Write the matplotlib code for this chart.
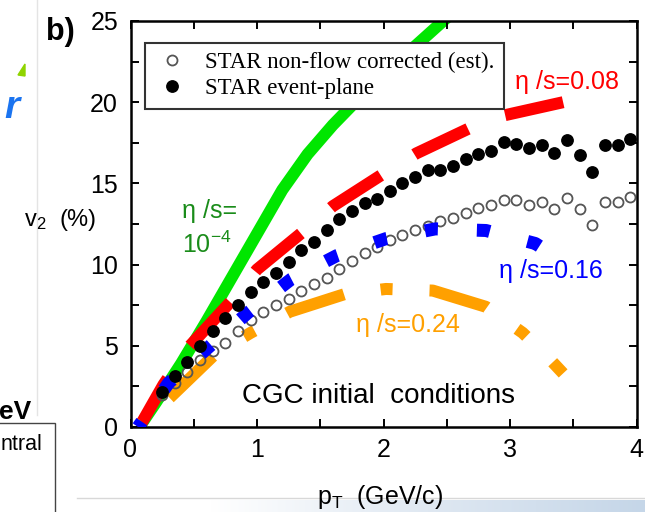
import matplotlib
matplotlib.use("Agg")
import matplotlib.pyplot as plt
from matplotlib.ticker import MultipleLocator
from matplotlib.lines import Line2D
from matplotlib.patches import Rectangle, Polygon
import numpy as np

plt.rcParams['font.family'] = ['Liberation Sans', 'DejaVu Sans']
plt.rcParams['mathtext.fontset'] = 'custom'
plt.rcParams['mathtext.rm'] = 'Liberation Sans'
plt.rcParams['mathtext.it'] = 'Liberation Sans:italic'
plt.rcParams['mathtext.bf'] = 'Liberation Sans:bold'

# STAR data (v2 in %)
pt = [0.25, 0.35, 0.45, 0.55, 0.65, 0.75, 0.85, 0.95, 1.05, 1.15, 1.25, 1.35, 1.45,
      1.55, 1.65, 1.75, 1.85, 1.95, 2.05, 2.15, 2.25, 2.35, 2.45, 2.55, 2.65, 2.75,
      2.85, 2.95, 3.05, 3.15, 3.25, 3.35, 3.45, 3.55, 3.65, 3.75, 3.85, 3.95]
v2_ep = [2.15, 3.15, 4.0, 5.0, 5.9, 6.7, 7.5, 8.3, 8.95, 9.5, 10.15, 10.9, 11.4,
         12.1, 12.8, 13.3, 13.8, 14.05, 14.55, 15.0, 15.4, 15.8, 15.8, 16.1, 16.5, 16.8,
         17.0, 17.55, 17.45, 17.15, 17.35, 16.85, 17.65, 16.75, 15.7, 17.35, 17.35, 17.75]
v2_nf = [2.0, 2.7, 3.4, 4.1, 4.7, 5.2, 5.9, 6.6, 7.1, 7.5, 7.9, 8.4, 8.8,
         9.2, 9.7, 10.2, 10.7, 11.1, 11.5, 11.8, 12.1, 12.4, 12.7, 12.9, 13.2, 13.5,
         13.65, 14.0, 13.95, 13.65, 13.85, 13.45, 14.1, 13.4, 12.45, 13.85, 13.85, 14.15]

# hydro curves, eta/s values
green_pt = [0.07, 0.2, 0.4, 0.6, 0.8, 1.0, 1.2, 1.4, 1.6, 1.8, 2.0, 2.2, 2.4, 2.5]
green_v2 = [0.0, 1.5, 3.9, 6.5, 9.2, 11.9, 14.6, 16.8, 18.6, 20.2, 21.7, 23.1, 24.5, 25.2]
red_pt = [0.07, 0.26, 0.47, 0.79, 1.0, 1.36, 1.6, 2.0, 2.26, 2.68, 2.96, 3.42]
red_v2 = [0.0, 2.6, 5.0, 7.7, 9.7, 12.0, 13.6, 15.6, 16.85, 18.4, 19.2, 20.0]
blue_pt = [0.06, 0.3, 0.63, 0.93, 1.27, 1.63, 2.02, 2.41, 2.81, 3.2, 3.25]
blue_v2 = [0.0, 2.7, 5.0, 7.05, 9.1, 10.55, 11.6, 12.2, 12.1, 11.3, 11.05]
orange_pt = [0.06, 0.31, 0.67, 0.95, 1.26, 1.7, 2.02, 2.39, 2.81, 3.1, 3.3, 3.42]
orange_v2 = [0.0, 1.8, 4.5, 5.8, 7.1, 8.2, 8.5, 8.4, 7.4, 5.8, 4.3, 3.3]

W, H = 645, 512
def fx(px):
    return px / W
def fy(py):
    return 1 - py / H

fig = plt.figure(figsize=(6.45, 5.12), dpi=100)
ax = fig.add_axes([fx(130.5), fy(427), 506 / W, 406 / H])

lw = 8.64  # ~12 px
ax.plot(green_pt, green_v2, color='#00e600', lw=lw, solid_capstyle='butt',
        solid_joinstyle='round', zorder=1.5)
ax.plot(red_pt, red_v2, color='#ff0000', lw=lw, ls=(0.27, (4.95, 3.3)),
        dash_capstyle='butt', zorder=2)
ax.plot(orange_pt, orange_v2, color='#ffa000', lw=lw, ls=(8.58, (5.0, 3.08, 1.0, 3.08)),
        dash_capstyle='butt', zorder=2)
ax.plot(blue_pt, blue_v2, color='#0000ff', lw=9.36, ls=(0.5, (1.0, 3.0)),
        dash_capstyle='butt', zorder=3)

h_nf, = ax.plot(pt, v2_nf, ls='none', marker='o', ms=7.2, mfc='none', mec='#555555',
                mew=1.3, zorder=2.5, label='STAR non-flow corrected (est).')
h_ep, = ax.plot(pt, v2_ep, ls='none', marker='o', ms=8.2, mfc='black', mec='black',
                zorder=4, label='STAR event-plane')

ax.set_xlim(0, 4)
ax.set_ylim(0, 25)
ax.xaxis.set_major_locator(MultipleLocator(1))
ax.xaxis.set_minor_locator(MultipleLocator(0.5))
ax.yaxis.set_major_locator(MultipleLocator(5))
ax.yaxis.set_minor_locator(MultipleLocator(2.5))
ax.tick_params(which='both', direction='in', top=True, right=True, length=5.8,
               width=1.4, color='black')
ax.tick_params(axis='x', which='major', labelsize=18, pad=8)
ax.tick_params(axis='y', which='major', labelsize=18, pad=9)
for s in ax.spines.values():
    s.set_linewidth(1.8)

ax.set_xlabel('p$_\\mathrm{T}$  (GeV/c)', fontsize=18)
ax.xaxis.set_label_coords(0.493, -0.138)
ax.set_ylabel('v$_2$  (%)', fontsize=17, rotation=0, ha='center', va='center')
ax.yaxis.set_label_coords(-0.139, 0.51)

leg = ax.legend(handles=[h_nf, h_ep], loc='upper left',
                bbox_to_anchor=(fx(145), fy(43)), bbox_transform=fig.transFigure,
                borderaxespad=0, prop={'family': 'Liberation Serif', 'size': 16.5},
                frameon=True, fancybox=False, framealpha=1, edgecolor='#333333',
                handlelength=1.55, handletextpad=0.67, borderpad=0.4, labelspacing=0.22)
leg.get_frame().set_linewidth(1.5)
leg.set_zorder(5)

lab = dict(fontsize=18, ha='center', va='center')
ax.text(3.45, 21.24, '\u03b7 /s=0.08', color='#ff0000', **lab)
ax.text(3.32, 9.6, '\u03b7 /s=0.16', color='#0000ff', **lab)
ax.text(2.19, 6.28, '\u03b7 /s=0.24', color='#ffa000', **lab)
ax.text(0.407, 13.3, '\u03b7 /s=', color='#1a8c1a', fontsize=18, ha='left', va='center')
ax.text(0.407, 11.2, '10$^{-4}$', color='#1a8c1a', fontsize=18, ha='left', va='center')
ax.text(1.96, 1.9, 'CGC initial  conditions', color='black', fontsize=20,
        ha='center', va='center')

# panel tag and slide leftovers around the figure
fig.text(fx(60), fy(32), 'b)', fontsize=22, fontweight='bold', ha='center', va='center')
fig.add_artist(Line2D([fx(37), fx(37)], [1, fy(415)], color='#e4e4e4', lw=1, zorder=-2))
fig.text(fx(19), fy(108), 'r', color='#1b74f0', fontsize=28, fontweight='bold',
         style='italic', ha='right', va='center')
fig.add_artist(Polygon([[fx(18), fy(75)], [fx(25), fy(64)], [fx(25), fy(76)]],
                       closed=True, color='#8fd400', transform=fig.transFigure))
fig.text(fx(31), fy(412), 'eV', fontsize=19, fontweight='bold', ha='right', va='center')
fig.add_artist(Rectangle((fx(-5), fy(520)), fx(60), fy(423) - fy(520), fill=False,
                         edgecolor='#444444', lw=1, transform=fig.transFigure))
fig.text(fx(42), fy(445), 'ntral', fontsize=15.5, ha='right', va='center')
fig.add_artist(Line2D([fx(77), 1], [fy(498), fy(498)], color='#d8d8d8', lw=1, zorder=-2))
gax = fig.add_axes([fx(210), 0, 1 - fx(210), 12 / H], zorder=-1)
grad = np.linspace(0, 1, 256).reshape(1, -1)
gax.imshow(grad, aspect='auto', cmap=matplotlib.colors.LinearSegmentedColormap.from_list(
    'g', ['#ffffff', '#dfe8f2', '#c5d6e8']))
gax.axis('off')

fig.savefig('out.png', dpi=100)
